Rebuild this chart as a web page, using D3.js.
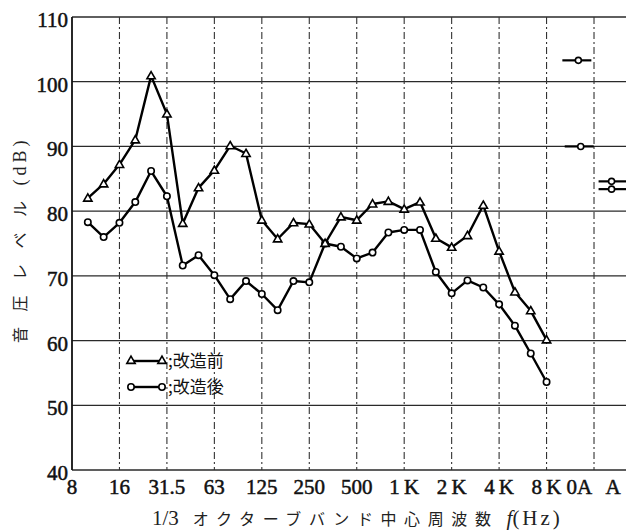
<!DOCTYPE html>
<html>
<head>
<meta charset="utf-8">
<script src="https://cdn.jsdelivr.net/npm/d3@7"></script>
<style>
  html, body { margin: 0; padding: 0; background: #fff; }
  svg { display: block; }
</style>
</head>
<body>
<svg id="chart" width="626" height="531"></svg>
<script>
// 1/3-octave band centre frequencies (10 Hz – 8 kHz)
const bands = ["10","12.5","16","20","25","31.5","40","50","63","80","100","125","160",
  "200","250","315","400","500","630","800","1K","1.25K","1.6K","2K","2.5K","3.15K",
  "4K","5K","6.3K","8K"];

// Sound pressure level before modification (dB)
const levelsBefore = [82.0, 84.2, 87.2, 91.0, 100.9, 95.0, 78.1, 83.6, 86.3, 90.1, 88.9,
  78.6, 75.7, 78.2, 78.0, 75.0, 79.1, 78.6, 81.1, 81.5, 80.3, 81.4, 75.8, 74.4, 76.2,
  80.9, 73.8, 67.5, 64.6, 60.1];

// Sound pressure level after modification (dB)
const levelsAfter = [78.3, 76.0, 78.2, 81.4, 86.2, 82.3, 71.6, 73.2, 70.1, 66.4, 69.2,
  67.2, 64.7, 69.2, 69.0, 75.0, 74.5, 72.7, 73.6, 76.7, 77.1, 77.1, 70.6, 67.3, 69.3,
  68.2, 65.6, 62.3, 58.0, 53.6];

// Overall (0A) and A-weighted (A) levels: [before, after]
const overallLevels = [103.3, 90.0];
const aWeightedLevels = [84.6, 83.4];

// Axis tick labels (position in octaves above 8 Hz) and y ticks
const xTickLabels = ["8","16","31.5","63","125","250","500","1\u2009K","2\u2009K","4\u2009K","8\u2009K","0A","A"];
const xTickOctaves = [0,1,2,3,4,5,6,7,8,9,10,10.69,11.4];
const yTicks = [40,50,60,70,80,90,100,110];

const legendLabels = [";改造前", ";改造後"];

(function draw() {
  const svg = d3.select("#chart");
  const W = 626, H = 531;
  const mLeft = 72, mTop = 17, mBottom = 470;

  svg.append("rect").attr("width", W).attr("height", H).attr("fill", "#fff");

  // x in octaves above 8 Hz; the last octave columns hold 0A and A
  const x = d3.scaleLinear().domain([0, 11.674]).range([mLeft, W]);
  const y = d3.scaleLinear().domain([40, 110]).range([mBottom, mTop]);
  const bandX = i => x((i + 1) / 3);

  const serif = "'Liberation Serif', 'DejaVu Serif', serif";
  const cjk = "'Noto Sans CJK JP', 'Noto Sans', sans-serif";

  // horizontal grid
  const grid = svg.append("g");
  grid.selectAll("line.h").data(yTicks).join("line")
    .attr("x1", mLeft).attr("x2", W)
    .attr("y1", d => y(d)).attr("y2", d => y(d))
    .attr("stroke", "#2a2a2a").attr("stroke-width", d => (d === 40 || d === 110) ? 1.6 : 1.3);

  // vertical dashed grid at octave bands and the 0A divider
  grid.selectAll("line.v").data(d3.range(1, 12)).join("line")
    .attr("x1", d => x(d)).attr("x2", d => x(d))
    .attr("y1", mTop).attr("y2", mBottom)
    .attr("stroke", "#333").attr("stroke-width", 1.1)
    .attr("stroke-dasharray", "7,3,2,3");

  // left axis
  svg.append("line").attr("x1", mLeft).attr("x2", mLeft).attr("y1", mTop).attr("y2", mBottom)
    .attr("stroke", "#111").attr("stroke-width", 1.8);

  // y tick labels
  svg.append("g").selectAll("text").data(yTicks).join("text")
    .attr("x", mLeft - 4).attr("y", d => y(d) + 10)
    .attr("text-anchor", "end")
    .attr("font-family", serif).attr("font-size", 21)
    .attr("fill", "#111").attr("stroke", "#111").attr("stroke-width", 0.5)
    .text(d => d);

  // x tick labels
  svg.append("g").selectAll("text").data(xTickLabels).join("text")
    .attr("x", (d, i) => x(xTickOctaves[i]))
    .attr("y", 494)
    .attr("text-anchor", "middle")
    .attr("font-family", serif).attr("font-size", 21)
    .attr("fill", "#111").attr("stroke", "#111").attr("stroke-width", 0.5)
    .text(d => d);

  // series lines
  const line = d3.line().x((d, i) => bandX(i)).y(d => y(d));
  [levelsAfter, levelsBefore].forEach(vals => {
    svg.append("path").datum(vals).attr("d", line)
      .attr("fill", "none").attr("stroke", "#000").attr("stroke-width", 2.4)
      .attr("stroke-linejoin", "round");
  });

  const tri = d3.symbol().type(d3.symbolTriangle).size(30);

  // markers
  svg.append("g").selectAll("circle").data(levelsAfter).join("circle")
    .attr("cx", (d, i) => bandX(i)).attr("cy", d => y(d)).attr("r", 3.2)
    .attr("fill", "#fff").attr("stroke", "#000").attr("stroke-width", 1.6);

  svg.append("g").selectAll("path").data(levelsBefore).join("path")
    .attr("d", tri)
    .attr("transform", (d, i) => `translate(${bandX(i)},${y(d) + 0.5})`)
    .attr("fill", "#fff").attr("stroke", "#000").attr("stroke-width", 1.6);

  // overall (0A) and A-weighted markers: short bar with a small circle
  const summary = svg.append("g");
  const oaX = [x(10.67), x(10.72)];
  overallLevels.forEach((v, i) => {
    summary.append("line").attr("x1", oaX[i] - 16).attr("x2", oaX[i] + 13)
      .attr("y1", y(v)).attr("y2", y(v)).attr("stroke", "#000").attr("stroke-width", 2.2);
    summary.append("circle").attr("cx", oaX[i]).attr("cy", y(v)).attr("r", 3.0)
      .attr("fill", "#fff").attr("stroke", "#000").attr("stroke-width", 1.6);
  });
  aWeightedLevels.forEach(v => {
    const cx = x(11.37);
    summary.append("line").attr("x1", cx - 13).attr("x2", W)
      .attr("y1", y(v)).attr("y2", y(v)).attr("stroke", "#000").attr("stroke-width", 2.2);
    summary.append("circle").attr("cx", cx).attr("cy", y(v)).attr("r", 3.0)
      .attr("fill", "#fff").attr("stroke", "#000").attr("stroke-width", 1.6);
  });

  // legend
  const legend = svg.append("g");
  legendLabels.forEach((lab, i) => {
    const ly = 361 + i * 26;
    legend.append("line").attr("x1", 131).attr("x2", 162).attr("y1", ly).attr("y2", ly)
      .attr("stroke", "#000").attr("stroke-width", 2.4);
    [131, 162].forEach(mx => {
      if (i === 0) {
        legend.append("path").attr("d", tri).attr("transform", `translate(${mx},${ly})`)
          .attr("fill", "#fff").attr("stroke", "#000").attr("stroke-width", 1.6);
      } else {
        legend.append("circle").attr("cx", mx).attr("cy", ly).attr("r", 3.2)
          .attr("fill", "#fff").attr("stroke", "#000").attr("stroke-width", 1.6);
      }
    });
    legend.append("text").attr("x", 168).attr("y", ly + 6)
      .attr("font-family", cjk).attr("font-size", 17).attr("fill", "#111")
      .text(lab);
  });

  // y axis title (vertical)
  const yt = svg.append("text")
    .attr("transform", "translate(26,343) rotate(-90)")
    .attr("font-family", cjk).attr("font-size", 16).attr("fill", "#222");
  yt.append("tspan").attr("letter-spacing", 15.5).text("音圧レベル");
  yt.append("tspan").attr("font-family", serif).attr("font-size", 18)
    .attr("letter-spacing", 4).text("(dB)");

  // x axis title
  const xt = svg.append("text").attr("x", 152).attr("y", 525)
    .attr("font-family", cjk).attr("font-size", 16).attr("fill", "#222");
  xt.append("tspan").attr("font-family", serif).attr("font-size", 21).text("1/3");
  xt.append("tspan").attr("dx", 14).attr("letter-spacing", 7.6).text("オクターブバンド中心周波数");
  xt.append("tspan").attr("dx", 8).attr("font-family", serif).attr("font-size", 21)
    .attr("font-style", "italic").text("f");
  xt.append("tspan").attr("font-family", serif).attr("font-size", 21)
    .attr("letter-spacing", 3).text("(Hz)");
})();
</script>
</body>
</html>
